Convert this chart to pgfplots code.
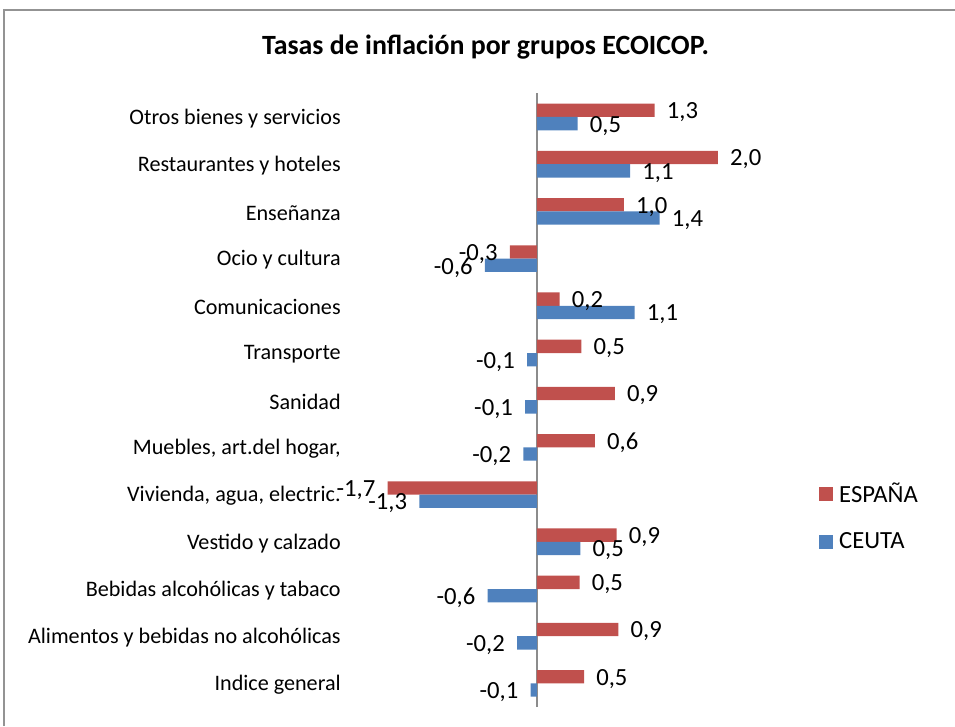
\documentclass[border=0pt]{standalone}
\usepackage{pgfplots}
\pgfplotsset{compat=1.18}
\usepackage{fontspec}
\setmainfont{Carlito}
\definecolor{esp}{HTML}{C0504D}
\definecolor{ceu}{HTML}{4F81BD}

\begin{document}
\begin{tikzpicture}
\useasboundingbox (0pt,0pt) rectangle (716.25pt,544.5pt);
\draw[color=gray!85, line width=1.2pt] (3pt,0pt) -- (3pt,537pt) -- (716.25pt,537pt);
\node[font=\fontsize{20.9}{24}\selectfont\bfseries] at (364.125pt,509.25pt) {Tasas de inflación por grupos ECOICOP.};
\begin{axis}[
  at={(258.825pt,14.25pt)}, anchor=south west,
  x=67.875pt, y=35.4pt,
  xmin=-2.12, xmax=2.9, ymin=-0.5, ymax=12.5,
  axis line style={draw=none},
  major tick style={draw=none},
  xtick=\empty,
  ytick={0,...,12},
  yticklabels={Indice general, Alimentos y bebidas no alcohólicas, Bebidas alcohólicas y tabaco, Vestido y calzado, {Vivienda, agua, electric.}, {Muebles, art.del hogar,}, Sanidad, Transporte, Comunicaciones, Ocio y cultura, Enseñanza, Restaurantes y hoteles, Otros bienes y servicios},
  yticklabel style={font=\fontsize{16.6}{20}\selectfont, xshift=4.5pt, yshift=-1pt},
  extra x ticks={0}, extra x tick labels={},
  extra x tick style={grid=major, major grid style={draw=gray!90, line width=1.5pt}},
  xbar, bar width=10pt,
  point meta=x,
  visualization depends on={value \thisrow{l} \as \lbl},
  nodes near coords={\lbl},
  nodes near coords align={horizontal},
  every node near coord/.append style={font=\fontsize{18.5}{22}\selectfont, inner xsep=9pt, yshift=-1.5pt, text=black},
  clip=false,
  legend style={at={(1.043,0.3097)}, anchor=west, draw=none, fill=none, inner sep=0pt,
    font=\fontsize{18.5}{22}\selectfont, row sep=17pt},
  legend cell align=left,
  legend image code/.code={\fill[#1,draw=none] (0pt,-5.25pt) rectangle (10.5pt,5.25pt); \path (13pt,0pt);},
]
\addplot[fill=esp, draw=none, bar shift=5pt] table[x=x, y=y] {
y x l
12 1.30 1,3
11 2.00 2,0
10 0.96 1,0
9 -0.30 -0,3
8 0.25 0,2
7 0.49 0,5
6 0.86 0,9
5 0.64 0,6
4 -1.65 -1,7
3 0.88 0,9
2 0.47 0,5
1 0.90 0,9
0 0.52 0,5
};
\addlegendentry{ESPAÑA}
\addplot[fill=ceu, draw=none, bar shift=-5pt] table[x=x, y=y] {
y x l
12 0.45 0,5
11 1.03 1,1
10 1.355 1,4
9 -0.575 -0,6
8 1.08 1,1
7 -0.11 -0,1
6 -0.13 -0,1
5 -0.15 -0,2
4 -1.30 -1,3
3 0.48 0,5
2 -0.545 -0,6
1 -0.22 -0,2
0 -0.07 -0,1
};
\addlegendentry{CEUTA}
\end{axis}
\end{tikzpicture}
\end{document}
